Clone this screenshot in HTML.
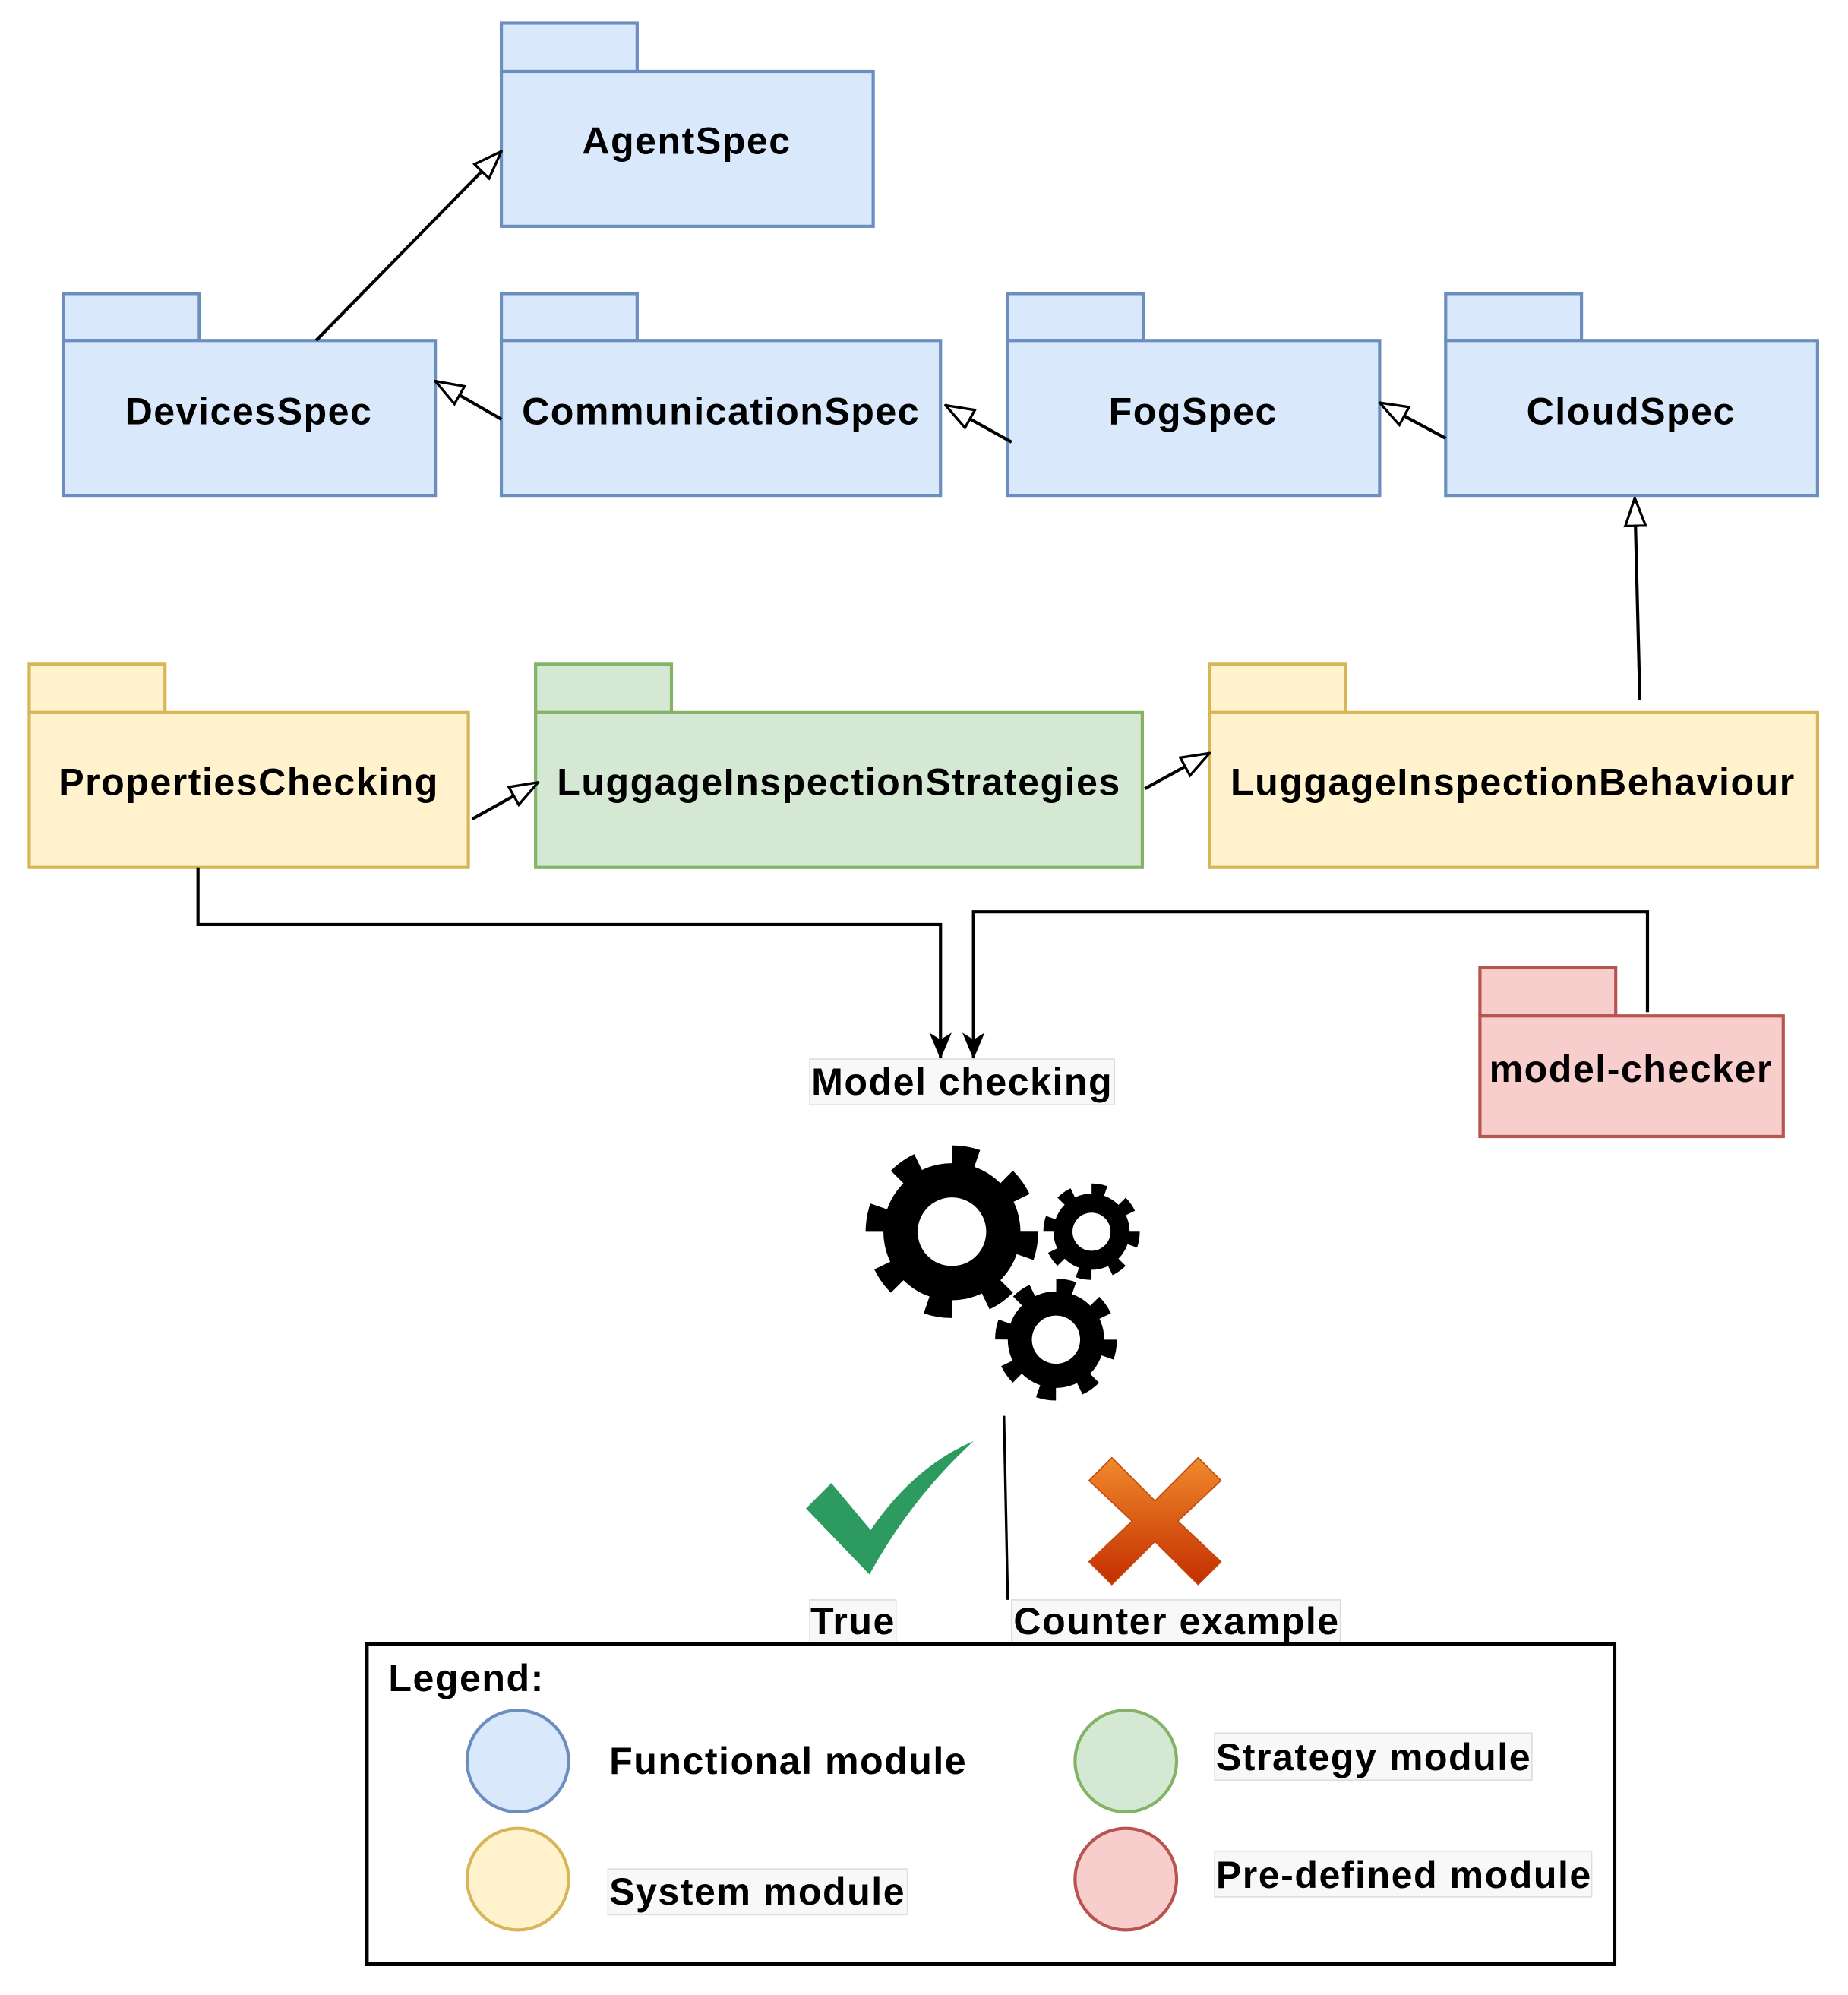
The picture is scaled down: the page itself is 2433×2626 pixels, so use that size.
<!DOCTYPE html>
<html><head><meta charset="utf-8"><style>
html,body{margin:0;padding:0;background:#fff}
svg{display:block}
text{font-family:"Liberation Sans",sans-serif;font-weight:bold;fill:#000;letter-spacing:0.9px}
</style></head><body>
<svg width="2433" height="2626" viewBox="0 0 1456 1571" xmlns="http://www.w3.org/2000/svg">
<defs>
<marker id="tri" viewBox="0 0 24 24" refX="23" refY="12" markerWidth="24" markerHeight="24" markerUnits="userSpaceOnUse" orient="auto">
<path d="M1,4 L23,12 L1,20 Z" fill="#fff" stroke="#000" stroke-width="2"/></marker>
<marker id="open" viewBox="0 0 20 20" refX="18" refY="10" markerWidth="22" markerHeight="22" markerUnits="userSpaceOnUse" orient="auto">
<path d="M0,2 L19,10 L0,18 L5,10 Z" fill="#000"/></marker>
</defs>
<g stroke-width="2.5">
<g fill="#dae8fc" stroke="#6c8ebf">
<rect x="395" y="18" width="107" height="38"/><rect x="395" y="56" width="293" height="122"/>
<rect x="50" y="231" width="107" height="37"/><rect x="50" y="268" width="293" height="122"/>
<rect x="395" y="231" width="107" height="37"/><rect x="395" y="268" width="346" height="122"/>
<rect x="794" y="231" width="107" height="37"/><rect x="794" y="268" width="293" height="122"/>
<rect x="1139" y="231" width="107" height="37"/><rect x="1139" y="268" width="293" height="122"/>
</g>
<g fill="#fff2cc" stroke="#d6b656">
<rect x="23" y="523" width="107" height="38"/><rect x="23" y="561" width="346" height="122"/>
<rect x="953" y="523" width="107" height="38"/><rect x="953" y="561" width="479" height="122"/>
</g>
<g fill="#d5e8d4" stroke="#82b366">
<rect x="422" y="523" width="107" height="38"/><rect x="422" y="561" width="478" height="122"/>
</g>
<g fill="#f8cecc" stroke="#b85450">
<rect x="1166" y="762" width="107" height="38"/><rect x="1166" y="800" width="239" height="95"/>
</g>
</g>
<g font-size="30" text-anchor="middle">
<text x="541" y="121">AgentSpec</text>
<text x="196" y="334">DevicesSpec</text>
<text x="568" y="334">CommunicationSpec</text>
<text x="940" y="334">FogSpec</text>
<text x="1285" y="334">CloudSpec</text>
<text x="196" y="626">PropertiesChecking</text>
<text x="661" y="626">LuggageInspectionStrategies</text>
<text x="1192" y="626">LuggageInspectionBehaviour</text>
<text x="1285" y="852">model-checker</text>
</g>
<g stroke="#000" stroke-width="2.5" fill="none">
<line x1="249" y1="268" x2="395" y2="119" marker-end="url(#tri)"/>
<line x1="395" y1="330" x2="343" y2="300" marker-end="url(#tri)"/>
<line x1="797" y1="348" x2="745" y2="319" marker-end="url(#tri)"/>
<line x1="1139" y1="345" x2="1087" y2="317" marker-end="url(#tri)"/>
<line x1="1292" y1="551" x2="1288" y2="392" marker-end="url(#tri)"/>
<line x1="372" y1="645" x2="424" y2="616" marker-end="url(#tri)"/>
<line x1="902" y1="621" x2="953" y2="593" marker-end="url(#tri)"/>
<polyline points="156,683 156,728 741,728 741,833" marker-end="url(#open)"/>
<polyline points="1298,797 1298,718 767,718 767,833" marker-end="url(#open)"/>
<line x1="791" y1="1115" x2="794" y2="1260" stroke-width="2"/>
</g>
<rect x="638" y="834" width="240" height="36" fill="#f8f8f8" stroke="#ddd" stroke-width="1"/>
<text x="758" y="862" font-size="30" text-anchor="middle">Model checking</text>
<g>
<circle cx="750" cy="970" r="54" fill="#000"/>
<circle cx="750" cy="970" r="60" fill="none" stroke="#000" stroke-width="16" stroke-dasharray="20 27.1"/>
<circle cx="750" cy="970" r="27" fill="#fff"/>
<circle cx="860" cy="970" r="30" fill="#000"/>
<circle cx="860" cy="970" r="33" fill="none" stroke="#000" stroke-width="10" stroke-dasharray="11 14.9"/>
<circle cx="860" cy="970" r="15" fill="#fff"/>
<circle cx="832" cy="1055" r="38" fill="#000"/>
<circle cx="832" cy="1055" r="42" fill="none" stroke="#000" stroke-width="12" stroke-dasharray="14 19"/>
<circle cx="832" cy="1055" r="19" fill="#fff"/>
</g>
<path d="M635,1188 L655,1168 L686,1205 Q720,1155 767,1135 Q718,1180 685,1240 Z" fill="#2d9b5f"/>
<defs><linearGradient id="xg" x1="0" y1="0" x2="0" y2="1"><stop offset="0" stop-color="#f08a2c"/><stop offset="1" stop-color="#c42e00"/></linearGradient></defs>
<path d="M876,1148 L910,1182 L944,1148 L962,1166 L928,1198 L962,1230 L944,1248 L910,1214 L876,1248 L858,1230 L892,1198 L858,1166 Z" fill="url(#xg)" stroke="#c54a10" stroke-width="1" stroke-linejoin="round"/>
<rect x="638" y="1260" width="68" height="34" fill="#f8f8f8" stroke="#ddd" stroke-width="1"/>
<text x="672" y="1287" font-size="30" text-anchor="middle">True</text>
<rect x="797" y="1260" width="259" height="34" fill="#f8f8f8" stroke="#ddd" stroke-width="1"/>
<text x="927" y="1287" font-size="30" text-anchor="middle">Counter example</text>
<rect x="289" y="1295" width="983" height="252" fill="#fff" stroke="#000" stroke-width="3"/>
<text x="306" y="1332" font-size="30">Legend:</text>
<g stroke-width="2.5">
<ellipse cx="408" cy="1387" rx="40" ry="40" fill="#dae8fc" stroke="#6c8ebf"/>
<ellipse cx="408" cy="1480" rx="40" ry="40" fill="#fff2cc" stroke="#d6b656"/>
<ellipse cx="887" cy="1387" rx="40" ry="40" fill="#d5e8d4" stroke="#82b366"/>
<ellipse cx="887" cy="1480" rx="40" ry="40" fill="#f8cecc" stroke="#b85450"/>
</g>
<rect x="957" y="1365" width="250" height="37" fill="#f8f8f8" stroke="#ddd" stroke-width="1"/>
<rect x="479" y="1472" width="236" height="36" fill="#f8f8f8" stroke="#ddd" stroke-width="1"/>
<rect x="957" y="1458" width="297" height="36" fill="#f8f8f8" stroke="#ddd" stroke-width="1"/>
<g font-size="30">
<text x="480" y="1397">Functional module</text>
<text x="958" y="1394">Strategy module</text>
<text x="480" y="1500">System module</text>
<text x="958" y="1487">Pre-defined module</text>
</g>
</svg>
</body></html>
